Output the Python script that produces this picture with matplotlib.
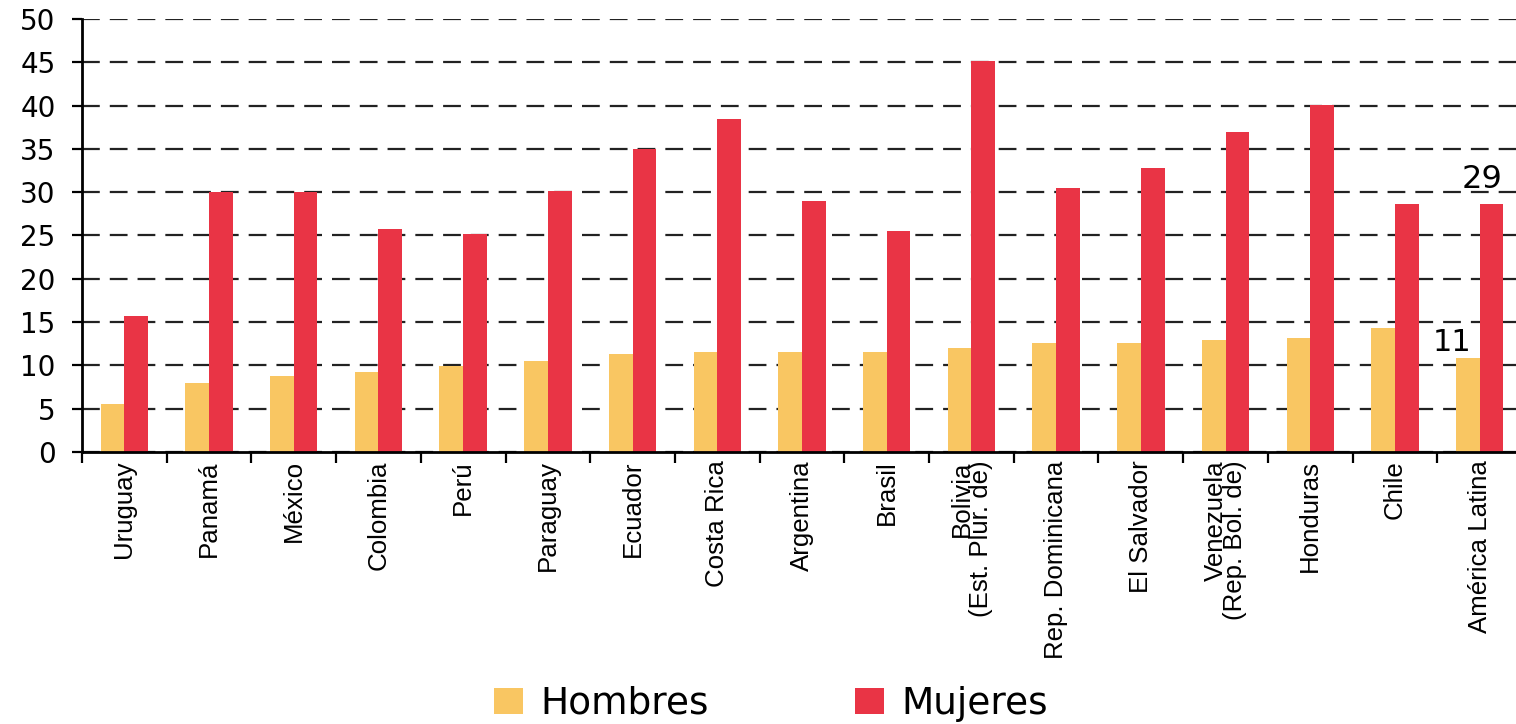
import numpy as np
import matplotlib
matplotlib.use("Agg")
import matplotlib.pyplot as plt
from matplotlib import font_manager

# Datos
paises = ['Uruguay', 'Panamá', 'México', 'Colombia', 'Perú', 'Paraguay',
          'Ecuador', 'Costa Rica', 'Argentina', 'Brasil',
          'Bolivia\n(Est. Plur. de)', 'Rep. Dominicana', 'El Salvador',
          'Venezuela\n(Rep. Bol. de)', 'Honduras', 'Chile', 'América Latina']
hombres = [5.6, 8.0, 8.8, 9.2, 9.9, 10.5, 11.3, 11.6, 11.6, 11.6,
           12.0, 12.6, 12.6, 12.9, 13.2, 14.3, 10.8]
mujeres = [15.7, 30.0, 30.0, 25.8, 25.2, 30.1, 35.0, 38.5, 29.0, 25.5,
           45.2, 30.5, 32.8, 37.0, 40.1, 28.6, 28.6]
y_ticks = [0, 5, 10, 15, 20, 25, 30, 35, 40, 45, 50]

color_h = '#F9C662'
color_m = '#E93445'

# fuente angosta para las etiquetas rotadas, si existe
narrow_path = font_manager.findfont(font_manager.FontProperties(family='Liberation Sans Narrow'))
if 'Narrow' in narrow_path:
    lab_font, lab_size = 'Liberation Sans Narrow', 22
else:
    lab_font, lab_size = 'Liberation Sans', 18.6

plt.rcParams['font.family'] = ['DejaVu Sans']

fig = plt.figure(figsize=(15.16, 7.24), dpi=100)
ax = fig.add_axes([82 / 1516, 1 - 452 / 724, 1440 / 1516, 433 / 724])

x = np.arange(len(paises))
w = 0.28
ax.bar(x - w, hombres, width=w, align='edge', color=color_h, label='Hombres', zorder=3)
ax.bar(x, mujeres, width=w, align='edge', color=color_m, label='Mujeres', zorder=3)

ax.set_ylim(0, 50)
ax.set_xlim(-0.5, len(paises) - 0.5)
ax.set_yticks(y_ticks)
ax.yaxis.grid(True, linestyle=(0, (8, 4.5)), color='#222222', linewidth=1.6, zorder=0)
ax.tick_params(axis='y', labelsize=20, length=7, width=1.6, pad=12)

# ticks de separación en x, etiquetas en el centro
ax.set_xticks(np.arange(-0.5, len(paises), 1.0))
ax.set_xticklabels([])
ax.tick_params(axis='x', which='major', length=8, width=1.6)
ax.set_xticks(x, minor=True)
ax.set_xticklabels(paises, minor=True, rotation=90, fontsize=lab_size,
                   family=lab_font, linespacing=0.78, multialignment='right')
ax.tick_params(axis='x', which='minor', length=0, pad=6)

for s in ['top', 'right']:
    ax.spines[s].set_visible(False)
for s in ['left', 'bottom']:
    ax.spines[s].set_linewidth(2)
    ax.spines[s].set_zorder(4)

# valores de América Latina
i = len(paises) - 1
ax.text(i - 0.1, hombres[i] + 1.9, f"{round(hombres[i])}", ha='right', va='center',
        fontsize=22, zorder=5)
ax.text(i - 0.21, mujeres[i] + 2.9, f"{round(mujeres[i])}", ha='left', va='center',
        fontsize=23, zorder=5)

fig.legend(loc='center left', bbox_to_anchor=(494 / 1516, 1 - 704 / 724), ncol=2,
           frameon=False, fontsize=27, handlelength=0.78, handleheight=0.68,
           handletextpad=0.45, columnspacing=3.9, borderpad=0, borderaxespad=0)

fig.savefig('out.png', dpi=100)
